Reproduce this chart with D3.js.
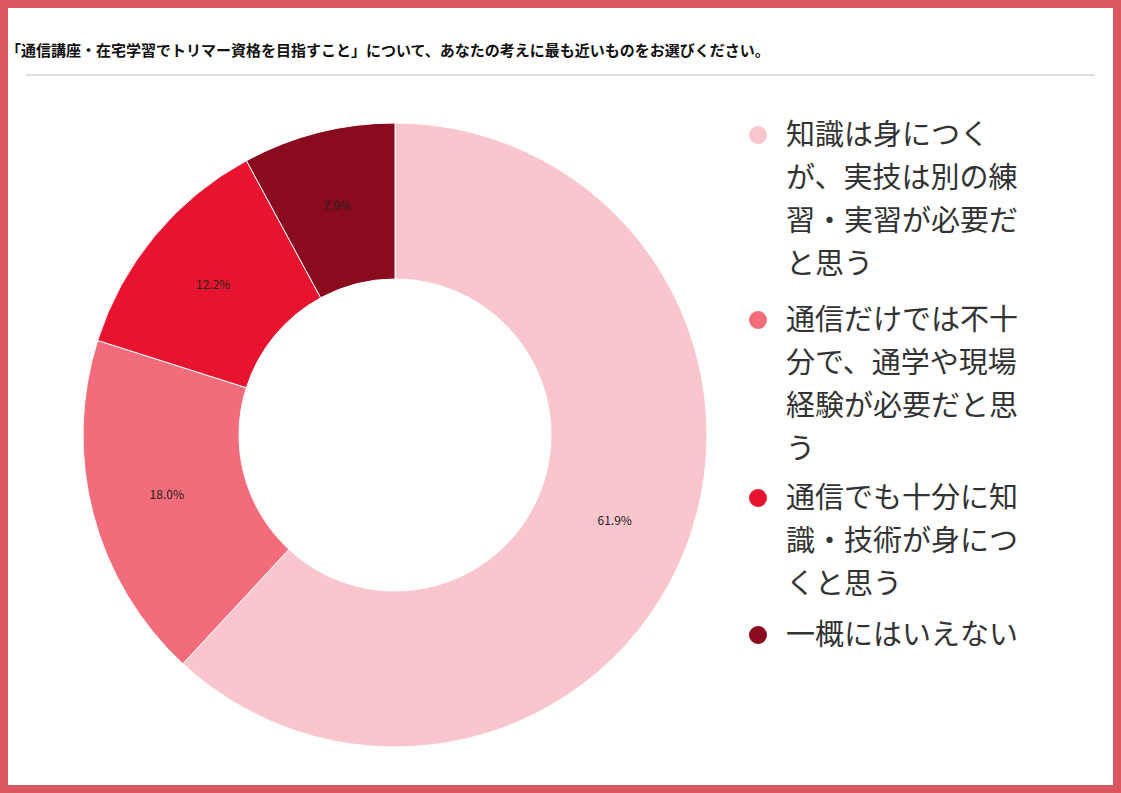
<!DOCTYPE html>
<html><head><meta charset="utf-8">
<script src="https://cdn.jsdelivr.net/npm/d3@7"></script>
<style>body{margin:0;background:#fff;font-family:"Noto Sans CJK JP","Noto Sans",sans-serif;}</style>
</head><body>
<script>
var categories = [
  ["知識は身につく", "が、実技は別の練", "習・実習が必要だ", "と思う"],
  ["通信だけでは不十", "分で、通学や現場", "経験が必要だと思", "う"],
  ["通信でも十分に知", "識・技術が身につ", "くと思う"],
  [" 一概にはいえない"]
];
var values = [61.9, 18.0, 12.2, 7.9];
var labels = ["61.9%", "18.0%", "12.2%", "7.9%"];
var colors = ["#f9c6cd", "#f26c7b", "#e8142f", "#8a0b1e"];

var W = 1121, H = 793;
var svg = d3.select("body").append("svg").attr("width", W).attr("height", H);

// border
svg.append("rect").attr("x", 4).attr("y", 4).attr("width", W - 8).attr("height", H - 8)
  .attr("fill", "none").attr("stroke", "#d9585e").attr("stroke-width", 8);

svg.append("text").attr("x", 6).attr("y", 56)
  .style("font-size", "15px").style("font-weight", "bold").attr("fill", "#111")
  .text("「通信講座・在宅学習でトリマー資格を目指すこと」について、あなたの考えに最も近いものをお選びください。");
svg.append("line").attr("x1", 26).attr("x2", 1095).attr("y1", 75).attr("y2", 75)
  .attr("stroke", "#bbb").attr("stroke-width", 1);

var cx = 395, cy = 435, rOut = 312, rIn = 156;
var pie = d3.pie().sort(null).value(d => d);
var arc = d3.arc().innerRadius(rIn).outerRadius(rOut);
var arcs = pie(values);
var g = svg.append("g").attr("transform", `translate(${cx},${cy})`);
g.selectAll("path").data(arcs).enter().append("path")
  .attr("d", arc).attr("fill", (d, i) => colors[i]).attr("stroke", "#fff").attr("stroke-width", 1);

var labelArc = d3.arc().innerRadius(rIn + 80).outerRadius(rIn + 80);
g.selectAll("text.lbl").data(arcs).enter().append("text")
  .attr("class", "lbl")
  .attr("transform", d => `translate(${labelArc.centroid(d)})`)
  .attr("text-anchor", "middle").attr("dy", "0.35em")
  .style("font-size", "12px").attr("fill", "#222")
  .text((d, i) => labels[i]);

// legend
var legendTop = [135, 320, 498, 635];
var lg = svg.append("g");
categories.forEach(function(lines, i) {
  lg.append("circle").attr("cx", 758).attr("cy", legendTop[i]).attr("r", 9).attr("fill", colors[i]);
  lines.forEach(function(t, j) {
    lg.append("text").attr("x", 786).attr("y", legendTop[i] + j * 43).attr("dy", "0.35em")
      .style("font-size", "29px").attr("fill", "#333").text(t);
  });
});
</script>
</body></html>
